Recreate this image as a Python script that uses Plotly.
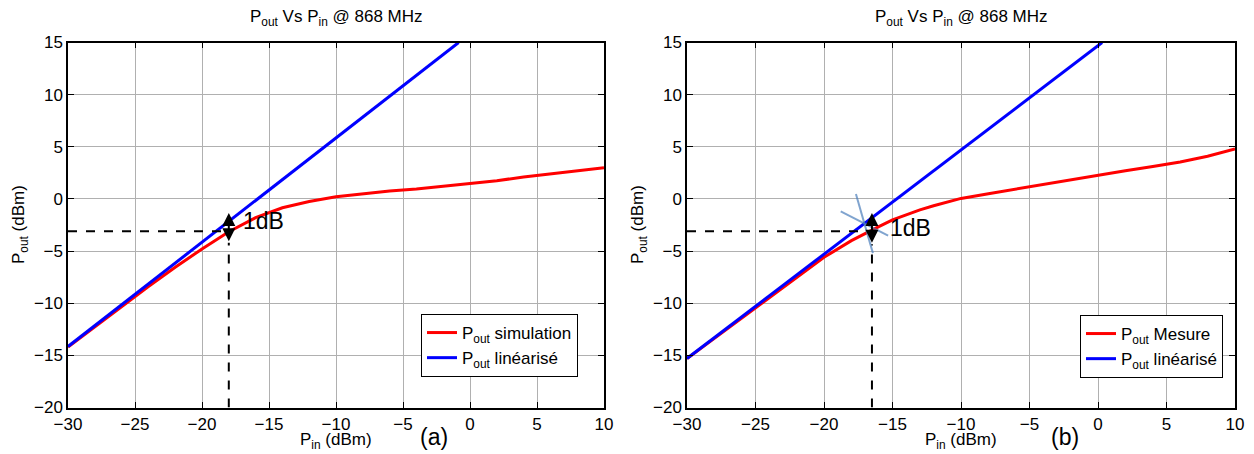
import plotly.graph_objects as go

# ---------------- data ----------------
pin_sim = [-30, -28, -26, -24, -22, -20, -18, -16, -14, -12, -10, -8, -6, -4, -2, 0, 2, 4, 6, 8, 10]
pout_sim = [-14.2, -12.25, -10.3, -8.4, -6.55, -4.8, -3.15, -1.8, -0.85, -0.25, 0.2, 0.5, 0.75,
            0.95, 1.2, 1.5, 1.75, 2.1, 2.4, 2.7, 3.0]
pin_lin_a = [-30, -0.85]
pout_lin_a = [-14.15, 15]

pin_mes = [-30, -28, -26, -24, -22, -20, -18, -17, -16, -15, -14, -13, -12, -11, -10, -8, -6, -4,
           -2, 0, 2, 4, 6, 8, 10]
pout_mes = [-15.3, -13.35, -11.4, -9.45, -7.5, -5.6, -4.0, -3.3, -2.65, -2.0, -1.5, -1.05, -0.65,
            -0.3, 0.05, 0.5, 0.95, 1.35, 1.8, 2.25, 2.7, 3.1, 3.55, 4.1, 4.8]
pin_lin_b = [-30, 0.3]
pout_lin_b = [-15.3, 15]

# 1 dB compression points: [Pin, Pout, arrow top, arrow bottom]
p1db_a = [-18, -3.1, -1.35, -4.2]
p1db_b = [-16.5, -3.1, -1.35, -4.35]
label_a = [-15.4, -2.15]
label_b = [-13.7, -2.75]
cursor_b = [-17.05, -2.36]

x_ticks = [-30, -25, -20, -15, -10, -5, 0, 5, 10]
y_ticks = [-20, -15, -10, -5, 0, 5, 10, 15]

FONT = "Liberation Sans, Arial, sans-serif"
W, H = 1254, 454
OFF = 8  # page body margin


def px(x):
    return (x - OFF) / W


def py(y):
    return 1 - (y - OFF) / H


fig = go.Figure()


def add_panel(xa, ya, leg, pin, pout, name, pinl, poutl, p1db):
    fig.add_trace(go.Scatter(x=pin, y=pout, mode="lines", name="P<sub>out</sub> " + name,
                             line=dict(color="#ff0000", width=3), xaxis=xa, yaxis=ya, legend=leg))
    fig.add_trace(go.Scatter(x=pinl, y=poutl, mode="lines", name="P<sub>out</sub> linéarisé",
                             line=dict(color="#0000ff", width=3), xaxis=xa, yaxis=ya, legend=leg))
    fig.add_trace(go.Scatter(x=[x_ticks[0], p1db[0]], y=[p1db[1], p1db[1]], mode="lines",
                             line=dict(color="black", width=2, dash="dash"), showlegend=False,
                             xaxis=xa, yaxis=ya, hoverinfo="skip"))
    fig.add_trace(go.Scatter(x=[p1db[0], p1db[0]], y=[y_ticks[0], p1db[3]], mode="lines",
                             line=dict(color="black", width=2, dash="dash"), showlegend=False,
                             xaxis=xa, yaxis=ya, hoverinfo="skip"))


add_panel("x", "y", "legend", pin_sim, pout_sim, "simulation", pin_lin_a, pout_lin_a, p1db_a)
add_panel("x2", "y2", "legend2", pin_mes, pout_mes, "Mesure", pin_lin_b, pout_lin_b, p1db_b)

CURSOR = "#4a7ebb"
fig.add_trace(go.Scatter(x=[cursor_b[0], cursor_b[0]], y=[cursor_b[1], cursor_b[1]], mode="markers",
                         marker=dict(symbol="line-ew-open", size=[38, 44], angle=[27, 74],
                                     color=CURSOR, line=dict(color=CURSOR, width=2)),
                         showlegend=False, xaxis="x2", yaxis="y2", hoverinfo="skip"))

dom_a = [px(68), px(604)]
dom_b = [px(687), px(1235)]
dom_y = [py(407.5), py(42.5)]

axis_common = dict(showline=True, linecolor="black", linewidth=1.5, mirror="ticks",
                   ticks="inside", ticklen=6, tickcolor="black", tickwidth=1,
                   showgrid=True, gridcolor="#b0b0b0", gridwidth=1, zeroline=False,
                   tickfont=dict(family=FONT, size=17, color="black"), automargin=False)

fig.update_layout(
    width=W, height=H,
    margin=dict(l=0, r=0, t=0, b=0),
    paper_bgcolor="white", plot_bgcolor="white",
    xaxis=dict(domain=dom_a, range=[-30, 10], tickvals=x_ticks, anchor="y", **axis_common),
    yaxis=dict(domain=dom_y, range=[-20, 15], tickvals=y_ticks, anchor="x", **axis_common),
    xaxis2=dict(domain=dom_b, range=[-30, 10], tickvals=x_ticks, anchor="y2", **axis_common),
    yaxis2=dict(domain=dom_y, range=[-20, 15], tickvals=y_ticks, anchor="x2", **axis_common),
    legend=dict(x=px(578), y=py(314), xanchor="right", yanchor="top",
                bordercolor="black", borderwidth=1, bgcolor="white",
                font=dict(family=FONT, size=17, color="black"), itemwidth=30, tracegroupgap=0),
    legend2=dict(x=px(1223), y=py(315), xanchor="right", yanchor="top",
                 bordercolor="black", borderwidth=1, bgcolor="white",
                 font=dict(family=FONT, size=17, color="black"), itemwidth=30, tracegroupgap=0),
    showlegend=True,
)

ann = []
for dom, xr, yr, p1db, lab, tag in [(dom_a, "x", "y", p1db_a, label_a, "(a)"),
                                    (dom_b, "x2", "y2", p1db_b, label_b, "(b)")]:
    cx = (dom[0] + dom[1]) / 2
    ann.append(dict(text="P<sub>out</sub> Vs P<sub>in</sub> @ 868 MHz", x=cx, y=py(18),
                    xref="paper", yref="paper", showarrow=False, xanchor="center", yanchor="middle",
                    borderpad=0, font=dict(family=FONT, size=17, color="black")))
    ann.append(dict(text="P<sub>in</sub> (dBm)", x=cx, y=py(441), xref="paper", yref="paper",
                    showarrow=False, xanchor="center", yanchor="middle", borderpad=0,
                    font=dict(family=FONT, size=17, color="black")))
    ann.append(dict(text="P<sub>out</sub> (dBm)", x=dom[0] - 48 / W, y=(dom_y[0] + dom_y[1]) / 2,
                    xref="paper", yref="paper", showarrow=False, textangle=-90,
                    xanchor="center", yanchor="middle",
                    font=dict(family=FONT, size=17, color="black")))
    ann.append(dict(text=tag, x=dom[1] - 170 / W, y=py(437), xref="paper", yref="paper",
                    showarrow=False, xanchor="center", yanchor="middle", borderpad=0,
                    font=dict(family=FONT, size=23, color="black")))
    ann.append(dict(text="1dB", x=lab[0], y=lab[1], xref=xr, yref=yr, showarrow=False,
                    xanchor="center", yanchor="middle", font=dict(family=FONT, size=23, color="black")))
    ann.append(dict(text="", x=p1db[0], y=p1db[2], ax=p1db[0], ay=p1db[3], xref=xr, yref=yr,
                    axref=xr, ayref=yr, showarrow=True, arrowhead=2, arrowside="end+start",
                    arrowsize=1.3, arrowwidth=2, arrowcolor="black"))
fig.update_layout(annotations=ann)

fig.write_html("out.html")
